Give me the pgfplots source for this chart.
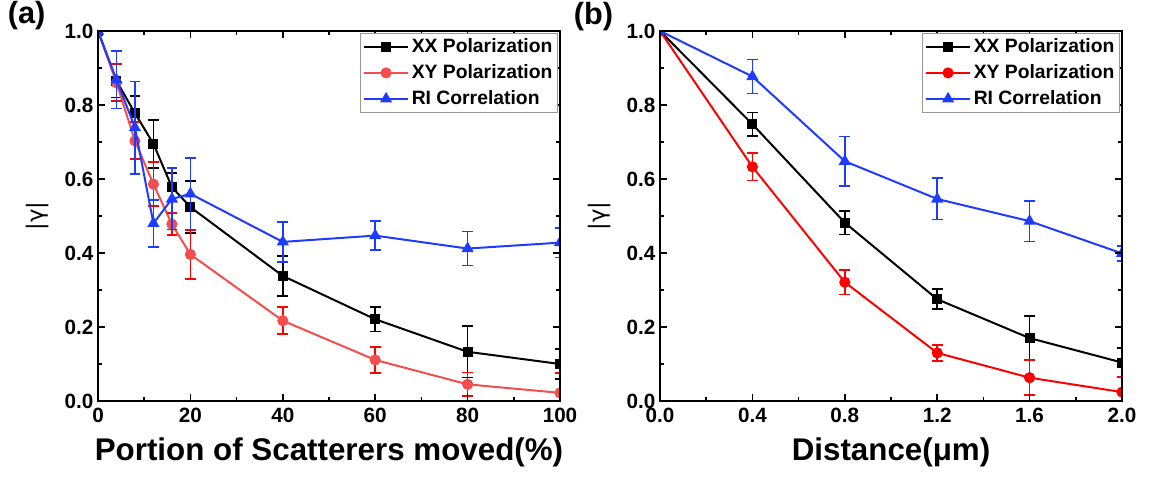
\documentclass[border=0pt]{standalone}
\usepackage{pgfplots}
\pgfplotsset{compat=1.18}
\usepackage{fontspec}
\setmainfont{Liberation Sans}
\newfontfamily\dejavu{DejaVu Sans}
\definecolor{cblue}{RGB}{30,60,255}
\definecolor{cred}{RGB}{255,0,0}
\definecolor{cpink}{RGB}{242,78,78}
\pgfplotsset{
  panel/.style={
    scale only axis, width=346.5pt, height=277.5pt,
    anchor=south west,
    ymin=0, ymax=1,
    ytick={0,0.2,0.4,0.6,0.8,1.0},
    yticklabels={0.0,0.2,0.4,0.6,0.8,1.0},
    minor y tick num=1, minor x tick num=1,
    axis line style={line width=1.6pt},
    every tick/.style={line width=1.2pt, black},
    major tick length=5pt, minor tick length=3pt,
    tick align=inside,
    axis on top,
    clip marker paths=true,
    tick label style={font=\fontsize{15.5}{17}\selectfont\bfseries},
    xticklabel style={yshift=-2pt},
    ylabel={{\dejavu |γ|}},
    ylabel style={font=\fontsize{17}{19}\selectfont, at={(axis description cs:-0.13,0.5)}, anchor=center},
    xlabel style={font=\fontsize{23.5}{26}\selectfont\bfseries, at={(axis description cs:0.5,0)}, anchor=base, yshift=-45pt},
    legend style={at={(rel axis cs:0.996,0.994)}, anchor=north east, draw=gray!80, line width=0.5pt,
      font=\fontsize{14.5}{16}\selectfont\bfseries, inner xsep=2pt, inner ysep=2pt, row sep=3.5pt,
      cells={anchor=west}},
    legend image code/.code={\draw[mark repeat=2,mark phase=2] plot coordinates {(0pt,0pt)(16.5pt,0pt)(33pt,0pt)};},
    error bars/y dir=both, error bars/y explicit,
    error bars/error mark options={rotate=90, mark size=4pt, line width=1.2pt},
  },
  sxx/.style={black, line width=1.5pt, mark=square*, mark size=3pt, mark options={solid},
    error bars/error bar style={line width=1.2pt, black}},
  sxy/.style={#1, line width=1.5pt, mark=*, mark size=3.4pt, mark options={solid},
    error bars/error bar style={line width=1.2pt, cred},
    error bars/error mark options={rotate=90, mark size=4pt, line width=1.4pt, cred}},
  sri/.style={cblue, line width=1.5pt, mark=triangle*, mark size=3.8pt, mark options={solid},
    error bars/error bar style={line width=1.2pt, cblue}},
}
\begin{document}
\begin{tikzpicture}
\useasboundingbox (-73.5pt,-60pt) rectangle (788.25pt,300.75pt);
\begin{axis}[panel, at={(0pt,0pt)},
  xmin=0, xmax=100, xtick={0,20,40,60,80,100},
  xticklabels={0,20,40,60,80,100},
  xlabel={Portion of Scatterers moved(\%)}]
\addplot[sxx] coordinates {
 (0,1.0) +- (0,0)
 (4,0.865) +- (0,0.045)
 (8,0.778) +- (0,0.047)
 (12,0.695) +- (0,0.065)
 (16,0.578) +- (0,0.038)
 (20,0.524) +- (0,0.07)
 (40,0.338) +- (0,0.054)
 (60,0.221) +- (0,0.033)
 (80,0.133) +- (0,0.069)
 (100,0.10) +- (0,0.04)
};
\addlegendentry{XX Polarization}
\addplot[sxy=cpink] coordinates {
 (0,1.0) +- (0,0)
 (4,0.86) +- (0,0.05)
 (8,0.703) +- (0,0.05)
 (12,0.586) +- (0,0.06)
 (16,0.478) +- (0,0.03)
 (20,0.396) +- (0,0.066)
 (40,0.217) +- (0,0.036)
 (60,0.111) +- (0,0.036)
 (80,0.045) +- (0,0.032)
 (100,0.022) +- (0,0.054)
};
\addlegendentry{XY Polarization}
\addplot[sri] coordinates {
 (0,1.0) +- (0,0)
 (4,0.868) +- (0,0.078)
 (8,0.739) +- (0,0.125)
 (12,0.48) +- (0,0.064)
 (16,0.546) +- (0,0.083)
 (20,0.56) +- (0,0.096)
 (40,0.43) +- (0,0.054)
 (60,0.447) +- (0,0.039)
 (80,0.412) +- (0,0.046)
 (100,0.428) +- (0,0.04)
};
\addlegendentry{RI Correlation}
\end{axis}
\begin{axis}[panel, at={(421.5pt,0pt)},
  xmin=0, xmax=2, xtick={0,0.4,0.8,1.2,1.6,2.0},
  xticklabels={0.0,0.4,0.8,1.2,1.6,2.0},
  xlabel={Distance(μm)}]
\addplot[sxx] coordinates {
 (0,1.0) +- (0,0)
 (0.4,0.748) +- (0,0.032)
 (0.8,0.482) +- (0,0.032)
 (1.2,0.275) +- (0,0.027)
 (1.6,0.17) +- (0,0.06)
 (2.0,0.104) +- (0,0.04)
};
\addlegendentry{XX Polarization}
\addplot[sxy=cred] coordinates {
 (0,1.0) +- (0,0)
 (0.4,0.633) +- (0,0.037)
 (0.8,0.321) +- (0,0.033)
 (1.2,0.13) +- (0,0.021)
 (1.6,0.063) +- (0,0.047)
 (2.0,0.024) +- (0,0.04)
};
\addlegendentry{XY Polarization}
\addplot[sri] coordinates {
 (0,1.0) +- (0,0)
 (0.4,0.877) +- (0,0.046)
 (0.8,0.648) +- (0,0.067)
 (1.2,0.546) +- (0,0.056)
 (1.6,0.486) +- (0,0.055)
 (2.0,0.399) +- (0,0.02)
};
\addlegendentry{RI Correlation}
\end{axis}
\node[font=\fontsize{23}{25}\selectfont\bfseries] at (-53.6pt,288.7pt) {(a)};
\node[font=\fontsize{23}{25}\selectfont\bfseries] at (371.6pt,288.4pt) {(b)};
\end{tikzpicture}
\end{document}
